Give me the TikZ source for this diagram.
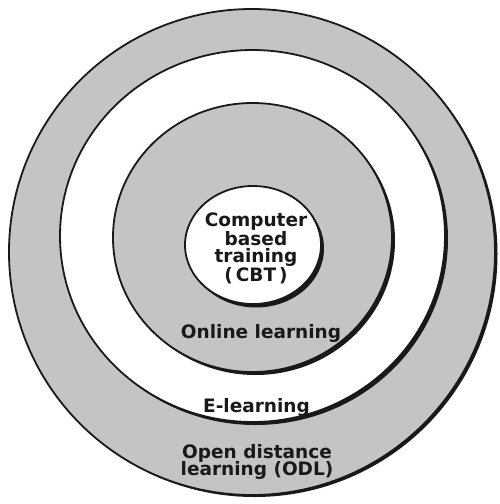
\documentclass[tikz,border=0pt]{standalone}
\usepackage{fontspec}
\setmainfont{DejaVu Sans}
\definecolor{ringgray}{gray}{0.77}
\definecolor{inkdark}{gray}{0.1}
\tikzset{
  shadowdisc/.style={fill=inkdark},
  graydisc/.style={fill=ringgray, draw=inkdark, line width=1.8pt},
  whitedisc/.style={fill=white, draw=inkdark, line width=1.8pt},
  lbl/.style={font=\bfseries\fontsize{18.5}{17}\selectfont, text=inkdark, align=center, inner sep=0pt}
}
\begin{document}
\begin{tikzpicture}[x=1pt,y=-1pt]
\useasboundingbox (0,0) rectangle (499,504);
\fill[white] (0,0) rectangle (499,504);
% outer ring: Open distance learning
\fill[shadowdisc] (254.5,254) ellipse [x radius=243pt, y radius=243pt];
\path[graydisc] (252,252) ellipse [x radius=243pt, y radius=243pt];
% E-learning
\fill[shadowdisc] (255.5,239) ellipse [x radius=192.5pt, y radius=186pt];
\path[whitedisc] (252.5,236) ellipse [x radius=192.5pt, y radius=186pt];
% Online learning
\fill[shadowdisc] (255.5,240.5) ellipse [x radius=139.5pt, y radius=134.5pt];
\path[graydisc] (252.5,237.5) ellipse [x radius=139.5pt, y radius=134.5pt];
% CBT
\fill[shadowdisc] (256,248.5) ellipse [x radius=68pt, y radius=59pt];
\path[whitedisc] (253,245) ellipse [x radius=68pt, y radius=59pt];
% labels
\node[lbl] (cbt) at (256,248.5) {Computer\\based\\training\\(\,CBT\,)};
\node[lbl, anchor=base] (online) at (261,338) {Online learning};
\node[lbl, anchor=base] (elearn) at (256.5,412) {E-learning};
\node[lbl, anchor=base] (odl) at (257,458) {Open distance};
\node[lbl, anchor=base] (odl2) at (257,475) {learning (ODL)};
\end{tikzpicture}
\end{document}
